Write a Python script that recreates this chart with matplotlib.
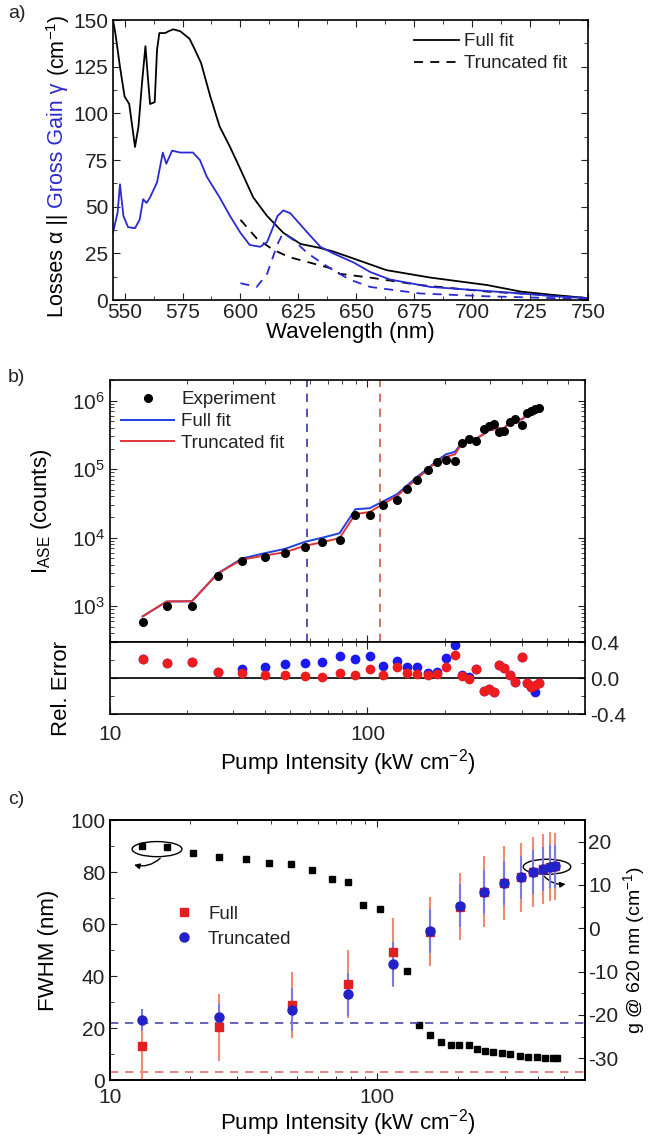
import matplotlib
matplotlib.use("Agg")
from matplotlib import pyplot as plt
from matplotlib import ticker
from matplotlib.patches import Ellipse

plt.rcParams['font.family'] = ['Liberation Sans', 'DejaVu Sans']
plt.rcParams['mathtext.fontset'] = 'custom'
plt.rcParams['mathtext.rm'] = 'Liberation Sans'
plt.rcParams['mathtext.it'] = 'Liberation Sans:italic'
plt.rcParams['mathtext.default'] = 'regular'
plt.rcParams['axes.unicode_minus'] = False
plt.rcParams['font.size'] = 15
plt.rcParams['axes.labelsize'] = 16
plt.rcParams['legend.fontsize'] = 13.5
plt.rcParams['xtick.direction'] = 'in'
plt.rcParams['ytick.direction'] = 'in'
plt.rcParams['xtick.major.size'] = 5
plt.rcParams['ytick.major.size'] = 5
plt.rcParams['xtick.minor.size'] = 3
plt.rcParams['ytick.minor.size'] = 3
plt.rcParams['axes.linewidth'] = 1.2
plt.rcParams['xtick.color'] = '#222222'
plt.rcParams['ytick.color'] = '#222222'
plt.rcParams['text.color'] = '#222222'

BLUE = '#2a2ad2'

# ---- panel a: losses / gross gain spectra ----
wl_loss_full = [545, 546, 548, 550, 552, 554.5, 556, 557.5, 559, 560, 561, 563, 564, 565, 567.5,
                569, 571, 574, 577, 578, 580, 583, 587, 591, 595.5, 600, 605.5, 611.5, 618.5,
                626, 634, 640, 647, 663, 682, 706.5, 721, 735, 750]
loss_full = [150, 143, 125, 109, 105, 82, 93, 116, 136, 120, 105, 106, 134, 143, 143,
             144, 145, 144, 141, 140, 135, 127, 109, 93, 82, 70, 55, 45, 36,
             30, 28, 26, 23, 16, 12, 8, 4.5, 2.7, 1]
wl_gain_full = [545, 547, 548, 549.5, 551.5, 554.5, 556.5, 558, 559.5, 561, 564, 566.5, 568,
                570.5, 574, 577.5, 579.5, 582.5, 585.5, 591, 595.5, 600, 604, 608.5, 611.5,
                616, 618.5, 621.5, 629, 634.5, 640, 649, 656, 664.5, 682, 699, 721, 735, 750]
gain_full = [36, 47, 62, 45, 39, 38.5, 43, 54, 52, 55, 63, 79, 73,
             80, 79, 79, 79, 75, 66, 55, 45, 36, 29.5, 28.5, 31,
             45, 48, 46.5, 36, 28.5, 25, 20, 15, 11, 7, 5.5, 3.5, 2, 1]
wl_loss_trunc = [600, 607, 614, 621, 630, 639, 643, 656, 677.5, 706.5, 728, 750]
loss_trunc = [43, 33, 27, 23, 20, 17, 14, 12, 8, 4.5, 3, 1]
wl_gain_trunc = [600, 607, 611.5, 616, 618.5, 623, 629, 635, 640, 647, 656, 677.5, 706, 750]
gain_trunc = [9, 7, 14, 30, 36, 32, 25, 20, 16, 11, 7, 3.5, 2, 0.5]

# ---- panel b: ASE intensity vs pump ----
pump = [13.4, 16.6, 20.8, 26.2, 32.5, 39.9, 47.7, 57.0, 66.9, 77.9, 89.8, 102, 115, 130, 143,
        156, 172, 187, 202, 219, 233, 249, 265, 284, 297, 311, 325, 340, 358, 375, 399, 417,
        432, 448, 464]
ase_exp = [590, 1000, 1000, 2800, 4500, 5300, 5900, 7400, 8500, 9300, 21500, 21500, 30000,
           36000, 52000, 69000, 97000, 126000, 135000, 131000, 238000, 272000, 255000, 380000,
           420000, 449000, 344000, 355000, 480000, 548000, 434000, 670000, 716000, 766000, 792000]
ase_full = [710, 1170, 1180, 3000, 4950, 5940, 6840, 8660, 10000, 11600, 26000, 26900, 33900,
            42800, 58200, 77300, 102800, 134800, 164700, 179500, 245000, 275000, 280500, 326800,
            369600, 381700, 395600, 394000, 496800, 526000, 533800, 629800, 644400, 643400, 744500]
ase_trunc = [710, 1170, 1180, 3000, 4770, 5490, 6110, 7590, 8590, 9860, 22100, 23650, 31050,
             40300, 55100, 72450, 99900, 131000, 151200, 165100, 242800, 269300, 280500, 326800,
             369600, 381700, 395600, 394000, 496800, 526000, 533800, 629800, 644400, 704700, 744500]
err_full = [0.21, 0.17, 0.18, 0.07, 0.10, 0.12, 0.16, 0.17, 0.18, 0.25, 0.21, 0.25, 0.13, 0.19,
            0.12, 0.12, 0.06, 0.07, 0.22, 0.37, 0.03, 0.01, 0.10, -0.14, -0.12, -0.15, 0.15,
            0.11, 0.035, -0.04, 0.23, -0.06, -0.10, -0.16, -0.06]
err_trunc = [0.21, 0.17, 0.18, 0.07, 0.06, 0.035, 0.035, 0.025, 0.01, 0.06, 0.03, 0.10, 0.035,
             0.12, 0.06, 0.05, 0.03, 0.04, 0.12, 0.26, 0.02, -0.01, 0.10, -0.14, -0.12, -0.15,
             0.15, 0.11, 0.035, -0.04, 0.23, -0.06, -0.10, -0.08, -0.06]
cut_full = 58.5
cut_trunc = 112

# ---- panel c: FWHM and gain at 620 nm ----
fwhm_x = [13.2, 16.3, 20.5, 25.6, 32.3, 39.4, 47.6, 57.1, 67.8, 77.9, 88.7, 102.6, 129, 144,
          158, 174, 189, 203, 221, 237, 254, 272, 294, 315, 343, 368, 397, 426, 456, 472]
fwhm = [90, 89.6, 87.3, 85.8, 85, 83.5, 83, 80.8, 77.3, 76.2, 67.3, 65.8, 42, 21.2,
        17.3, 14.6, 13.5, 13.5, 13.5, 11.9, 11.2, 10.8, 10.4, 10, 9.2, 8.8, 8.8, 8.5, 8.5, 8.3]
g_x = [13.2, 25.6, 48.0, 77.8, 114.8, 158, 204.6, 251.6, 299, 346, 384, 418.6, 444.6, 464]
g_full = [-27.2, -22.8, -17.7, -12.8, -5.5, -0.8, 5.0, 8.4, 10.5, 11.8, 13.0, 13.7, 14.2, 14.3]
g_trunc = [-21.2, -20.5, -18.8, -15.2, -8.2, -0.6, 5.2, 8.4, 10.5, 11.8, 13.0, 13.7, 14.2, 14.3]
g_full_err = [8, 7.7, 7.7, 7.9, 8, 8, 7.8, 8.2, 8.5, 8, 8, 8, 8, 7.7]
g_trunc_err = [2.5, 3, 5, 5, 5, 5, 5, 5, 5, 5, 5, 5, 5, 5]
loss_level_trunc = -21.9
loss_level_full = -33.2

W, H = 649, 1138
fig = plt.figure(figsize=(W / 100, H / 100), dpi=100)


def frac(left, top, right, bottom):
    return [left / W, 1 - bottom / H, (right - left) / W, (bottom - top) / H]


def dec_fmt(v, pos):
    return "%d" % round(v)


# ===== a) =====
ax_a = fig.add_axes(frac(113, 20, 588, 300))
ax_a.plot(wl_loss_full, loss_full, color='k', lw=1.3, label='Full fit')
ax_a.plot(wl_loss_trunc, loss_trunc, color='k', lw=1.3, ls=(0, (5, 4)), label='Truncated fit')
ax_a.plot(wl_gain_full, gain_full, color=BLUE, lw=1.3)
ax_a.plot(wl_gain_trunc, gain_trunc, color=BLUE, lw=1.3, ls=(0, (5, 4)))
ax_a.set_xlim(545, 750)
ax_a.set_ylim(0, 150)
ax_a.xaxis.set_major_locator(ticker.MultipleLocator(25))
ax_a.xaxis.set_minor_locator(ticker.MultipleLocator(12.5))
ax_a.yaxis.set_major_locator(ticker.MultipleLocator(25))
ax_a.yaxis.set_minor_locator(ticker.MultipleLocator(12.5))
ax_a.tick_params(which='both', top=True, right=True)
ax_a.tick_params(axis='x', pad=2)
ax_a.set_xlabel("Wavelength (nm)", labelpad=0)
ax_a.legend(loc='upper right', bbox_to_anchor=(0.985, 1.0), frameon=False, handlelength=2.4,
            labelspacing=0.25, borderaxespad=0.3, handletextpad=0.3)

# ===== b) =====
ax_b = fig.add_axes(frac(110, 380, 585, 642))
ax_b.plot(pump, ase_full, color='#2040e0', lw=1.4, label='Full fit', zorder=2)
ax_b.plot(pump, ase_trunc, color='#e03535', lw=1.4, label='Truncated fit', zorder=3)
ax_b.plot(pump, ase_exp, 'o', color='k', ms=5.5, label='Experiment', zorder=4)
ax_b.axvline(cut_full, color='#3a3a9a', lw=1.2, ls=(0, (5, 4)))
ax_b.axvline(cut_trunc, color='#d05a4a', lw=1.2, ls=(0, (5, 4)))
ax_b.set_xscale('log')
ax_b.set_yscale('log')
ax_b.set_xlim(10, 700)
ax_b.set_ylim(300, 2e6)
ax_b.tick_params(which='both', top=True, right=True, labelbottom=False)
ax_b.set_ylabel("I$_{ASE}$ (counts)")
ax_b.yaxis.set_label_coords(-0.118, 0.5)
h, l = ax_b.get_legend_handles_labels()
ax_b.legend([h[2], h[0], h[1]], [l[2], l[0], l[1]], loc='upper left', frameon=False,
            handlelength=2.8, labelspacing=0.25, borderaxespad=0.2, handletextpad=0.4)

ax_r = fig.add_axes(frac(110, 642, 585, 714), sharex=ax_b)
ax_r.axhline(0, color='k', lw=1.2)
ax_r.plot(pump, err_full, 'o', color='#1a1af0', ms=6)
ax_r.plot(pump, err_trunc, 'o', color='#ee1c1c', ms=6)
ax_r.set_ylim(-0.4, 0.4)
ax_r.yaxis.set_major_locator(ticker.FixedLocator([-0.4, 0.0, 0.4]))
ax_r.yaxis.set_minor_locator(ticker.MultipleLocator(0.2))
ax_r.yaxis.set_major_formatter(ticker.FormatStrFormatter('%.1f'))
ax_r.tick_params(which='both', top=True, right=True, labelleft=False, labelright=True)
ax_r.tick_params(axis='x', pad=8)
ax_r.xaxis.set_major_formatter(ticker.FuncFormatter(dec_fmt))
ax_r.xaxis.set_minor_formatter(ticker.NullFormatter())
ax_r.set_ylabel("Rel. Error")
ax_r.yaxis.set_label_coords(-0.08, 0.35)
ax_r.set_xlabel("Pump Intensity (kW cm$^{-2}$)", labelpad=2)

# ===== c) =====
ax_c = fig.add_axes(frac(110, 820, 585, 1080))
ax_c.plot(fwhm_x, fwhm, 's', color='k', ms=5)
ax_c.set_xscale('log')
ax_c.set_xlim(10, 600)
ax_c.set_ylim(0, 100)
ax_c.yaxis.set_major_locator(ticker.MultipleLocator(20))
ax_c.yaxis.set_minor_locator(ticker.MultipleLocator(10))
ax_c.xaxis.set_major_formatter(ticker.FuncFormatter(dec_fmt))
ax_c.xaxis.set_minor_formatter(ticker.NullFormatter())
ax_c.tick_params(which='both', top=True, right=False)
ax_c.tick_params(axis='x', pad=6)
ax_c.set_ylabel("FWHM (nm)")
ax_c.yaxis.set_label_coords(-0.107, 0.5)
ax_c.set_xlabel("Pump Intensity (kW cm$^{-2}$)", labelpad=0)

ax_g = ax_c.twinx()
ax_g.set_ylim(-35, 25)
ax_g.yaxis.set_major_locator(ticker.MultipleLocator(10))
ax_g.yaxis.set_minor_locator(ticker.MultipleLocator(5))
ax_g.tick_params(which='both', right=True, direction='in', pad=2.5)
ax_g.axhline(loss_level_trunc, color='#4a4aa8', lw=1.2, ls=(0, (5, 4)))
ax_g.axhline(loss_level_full, color='#e07070', lw=1.2, ls=(0, (5, 4)))
ax_g.errorbar(g_x, g_full, yerr=g_full_err, fmt='none', ecolor='#f08a70', elinewidth=1.5)
ax_g.errorbar(g_x, g_trunc, yerr=g_trunc_err, fmt='none', ecolor='#7a7ae0', elinewidth=1.5)
ax_g.plot(g_x, g_full, 's', color='#e02020', ms=6, label='Full')
ax_g.plot(g_x, g_trunc, 'o', color='#2222c8', ms=6.5, label='Truncated')
ax_g.set_ylabel("g @ 620 nm (cm$^{-1}$)", fontsize=14)
ax_g.yaxis.set_label_coords(1.076, 0.5)
ax_g.legend(loc='upper left', bbox_to_anchor=(0.08, 0.735), frameon=False,
            handletextpad=0.3, labelspacing=0.4)

# ellipses marking which axis each data set belongs to
ax_c.add_patch(Ellipse((0.099, 0.888), 0.105, 0.058, transform=ax_c.transAxes,
                       fill=False, ec='k', lw=1.0))
ax_c.annotate("", xy=(0.045, 0.83), xytext=(0.11, 0.86), xycoords='axes fraction',
              arrowprops=dict(arrowstyle='-|>', color='k', lw=1.0,
                              connectionstyle='arc3,rad=-0.3', mutation_scale=8))
ax_c.add_patch(Ellipse((0.92, 0.82), 0.10, 0.058, transform=ax_c.transAxes,
                       fill=False, ec='k', lw=1.0, zorder=5))
ax_c.annotate("", xy=(0.965, 0.755), xytext=(0.91, 0.792), xycoords='axes fraction',
              arrowprops=dict(arrowstyle='-|>', color='k', lw=1.0,
                              connectionstyle='arc3,rad=0.3', mutation_scale=8), zorder=6)
ax_g.set_zorder(ax_c.get_zorder() + 1)
ax_g.patch.set_visible(False)

# panel letters
fig.text(8 / W, 1 - 13 / H, "a)", fontsize=14, va='center')
fig.text(8 / W, 1 - 377 / H, "b)", fontsize=14, va='center')
fig.text(8 / W, 1 - 800 / H, "c)", fontsize=14, va='center')

# two-colour y label for panel a
fig.canvas.draw()
rend = fig.canvas.get_renderer()
parts = [("Losses α ||", 'k'), ("Gross Gain γ", BLUE), ("(cm$^{-1}$)", 'k')]
texts = [fig.text(0, 0, s, color=c, rotation=90, ha='center', va='bottom', fontsize=15.5)
         for s, c in parts]
sizes = [t.get_window_extent(rend).height for t in texts]
gap = 6
y0 = (H - 166) - (sum(sizes) + gap * (len(sizes) - 1)) / 2
for t, s in zip(texts, sizes):
    t.set_position((58 / W, y0 / H))
    y0 += s + gap

fig.savefig("out.png", dpi=100)
